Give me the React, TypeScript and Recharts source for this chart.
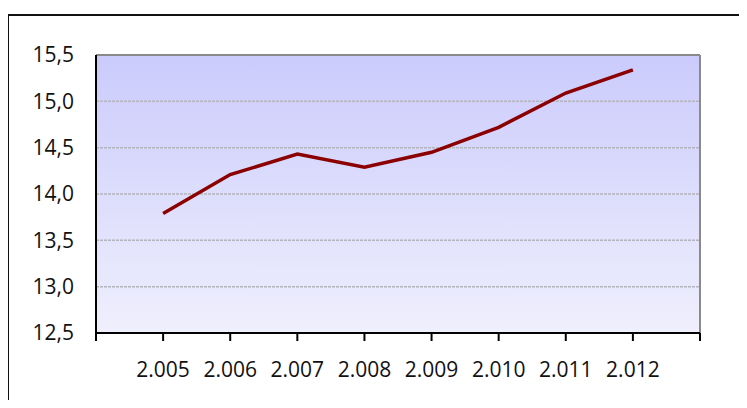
import React from 'react';
import { LineChart, Line, XAxis, YAxis, CartesianGrid, ReferenceLine } from 'recharts';

const years = [2005, 2006, 2007, 2008, 2009, 2010, 2011, 2012];
const values = [13.79, 14.21, 14.43, 14.29, 14.45, 14.72, 15.09, 15.34];
const xTicks = [2004, 2005, 2006, 2007, 2008, 2009, 2010, 2011, 2012, 2013];
const yTicks = [12.5, 13, 13.5, 14, 14.5, 15, 15.5];

const data = years.map((y, i) => ({ year: y, value: values[i] }));

const fmtX = (v: number) => {
  if (v === 2004 || v === 2013) return '';
  const s = String(v);
  return s.slice(0, 1) + '.' + s.slice(1);
};
const fmtY = (v: number) => v.toFixed(1).replace('.', ',');

const FONT = '"Open Sans", sans-serif';

export default function App() {
  return (
    <div
      style={{
        position: 'relative',
        width: 740,
        height: 400,
        overflow: 'hidden',
        marginLeft: -1,
        marginBottom: -8,
      }}
    >
      <div
        style={{
          position: 'absolute',
          left: 0,
          top: 6,
          width: 780,
          height: 440,
          border: '2px solid #111',
          boxSizing: 'border-box',
          pointerEvents: 'none',
        }}
      />
      <div style={{ position: 'absolute', left: 1, top: 0 }}>
        <LineChart
          width={739}
          height={390}
          data={data}
          margin={{ top: 47, right: 47, bottom: 5, left: 0 }}
        >
          <defs>
            <linearGradient id="bg" x1="0" y1="0" x2="0" y2="1">
              <stop offset="0%" stopColor="#cbcbfc" />
              <stop offset="100%" stopColor="#efeffd" />
            </linearGradient>
          </defs>
          <CartesianGrid
            vertical={false}
            fill="url(#bg)"
            stroke="#b4b4bc"
            strokeDasharray="3 1"
            strokeWidth={1.5}
          />
          <XAxis
            dataKey="year"
            type="number"
            domain={[2004, 2013]}
            ticks={xTicks}
            tickFormatter={fmtX}
            interval={0}
            height={60}
            tickSize={8}
            tickMargin={21}
            stroke="#000"
            strokeWidth={2}
            tick={{ fill: '#111', fontSize: 21, fontFamily: FONT }}
          />
          <YAxis
            type="number"
            domain={[12.5, 15.5]}
            ticks={yTicks}
            tickFormatter={fmtY}
            width={88}
            tickLine={false}
            tickSize={0}
            tickMargin={22}
            stroke="#000"
            strokeWidth={2}
            tick={{ fill: '#111', fontSize: 21, fontFamily: FONT }}
          />
          <ReferenceLine y={15.5} stroke="#8a8a8a" strokeWidth={2} />
          <ReferenceLine x={2013} stroke="#8a8a8a" strokeWidth={2} />
          <Line
            type="linear"
            dataKey="value"
            stroke="#8b0000"
            strokeWidth={3.5}
            dot={false}
            isAnimationActive={false}
          />
        </LineChart>
      </div>
    </div>
  );
}
